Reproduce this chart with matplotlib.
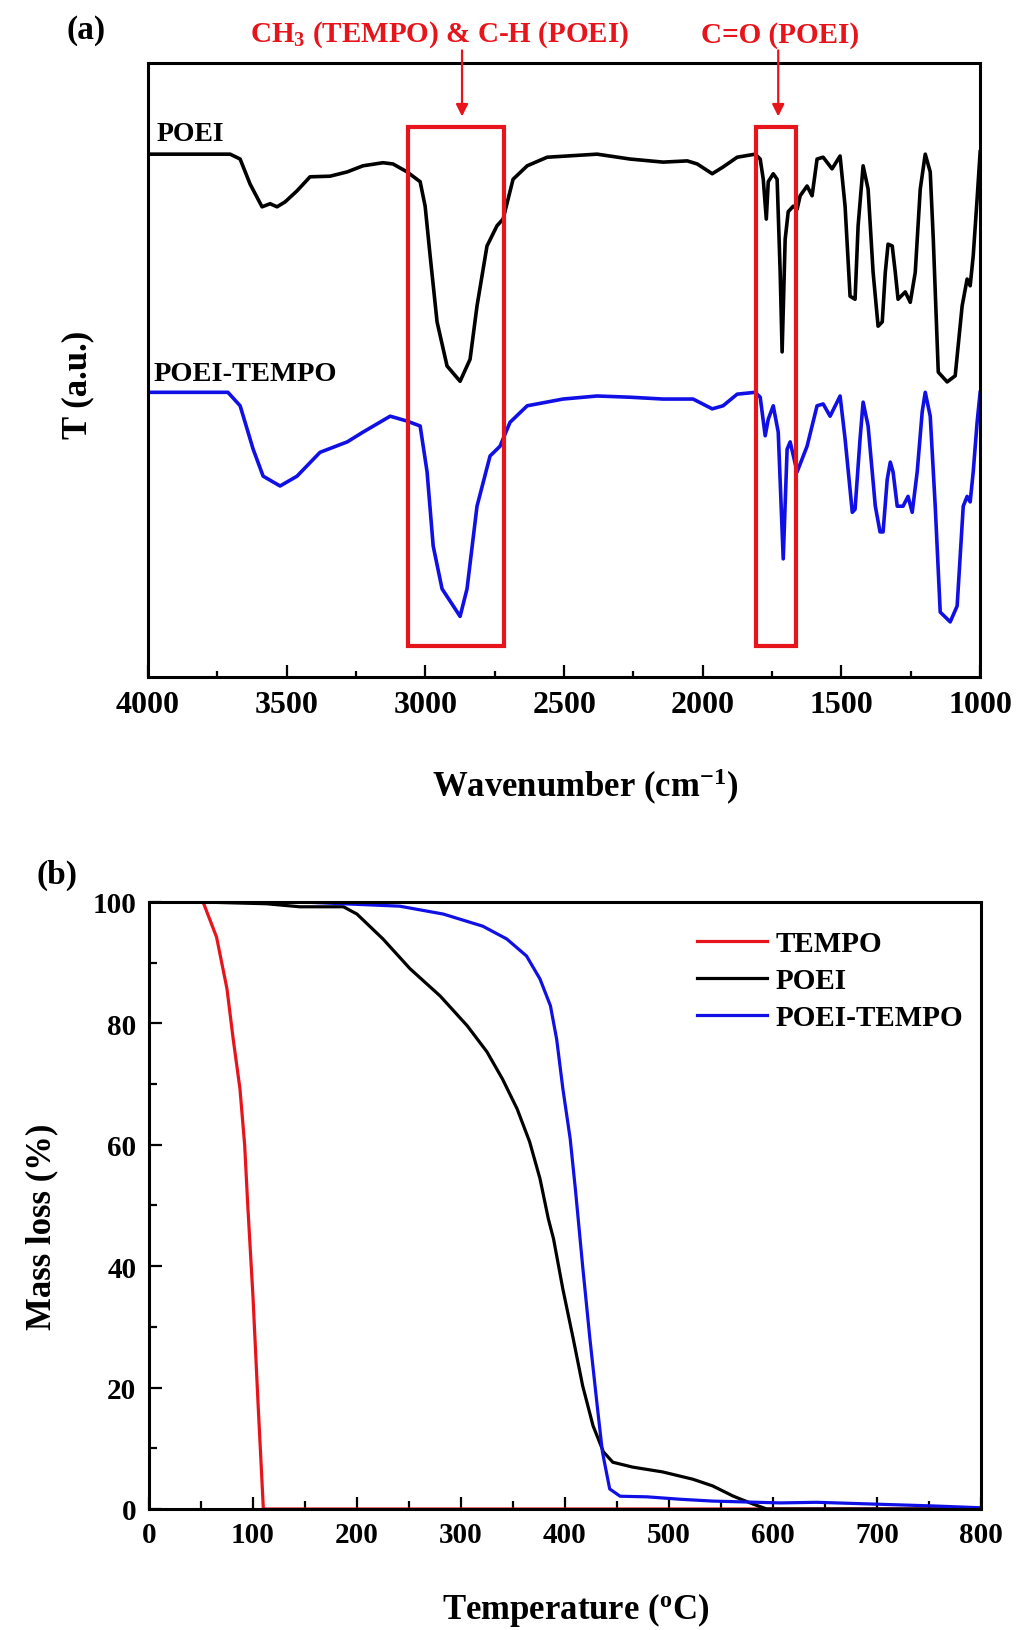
import matplotlib
matplotlib.use("Agg")
import matplotlib.pyplot as plt
from matplotlib.patches import Rectangle
from matplotlib.ticker import MultipleLocator

plt.rcParams['font.family'] = ['Liberation Serif', 'DejaVu Serif']
plt.rcParams['font.weight'] = 'bold'
plt.rcParams['axes.labelweight'] = 'bold'
plt.rcParams['mathtext.fontset'] = 'custom'
plt.rcParams['mathtext.rm'] = 'Liberation Serif:bold'
plt.rcParams['mathtext.default'] = 'regular'

# ---- FTIR spectra (a), transmittance in arbitrary units ----
poei_wn = [4000, 3704, 3668, 3632, 3589, 3560, 3535, 3506, 3463, 3416, 3344, 3282, 3225, 3153,
           3117, 3066, 3019, 3001, 2983, 2958, 2922, 2875, 2839, 2814, 2778, 2742, 2720, 2684,
           2633, 2561, 2381, 2262, 2143, 2056, 2020, 1966, 1927, 1876, 1811, 1793, 1782, 1771,
           1764, 1746, 1732, 1721, 1714, 1703, 1692, 1674, 1660, 1649, 1624, 1606, 1588, 1566,
           1534, 1505, 1487, 1469, 1451, 1440, 1422, 1404, 1386, 1368, 1353, 1342, 1332, 1317,
           1306, 1296, 1270, 1252, 1234, 1216, 1198, 1180, 1169, 1151, 1119, 1090, 1065, 1047,
           1036, 1025, 1011, 1000]
poei_t = [85.1, 85.1, 84.3, 80.2, 76.5, 77.0, 76.5, 77.3, 79.1, 81.4, 81.5, 82.2, 83.2, 83.7,
          83.5, 82.2, 80.6, 76.6, 68.5, 57.7, 50.5, 48.0, 51.6, 60.3, 70.1, 73.4, 74.5, 81.0,
          83.2, 84.6, 85.1, 84.3, 83.8, 84.0, 83.5, 81.9, 83.0, 84.6, 85.1, 84.3, 81.0, 74.5,
          80.6, 81.9, 81.0, 65.8, 52.8, 71.2, 75.7, 76.6, 76.1, 78.3, 79.9, 78.3, 84.3, 84.6,
          82.7, 84.8, 76.6, 61.9, 61.4, 73.4, 83.2, 79.4, 65.8, 57.0, 57.7, 65.8, 70.4, 70.1,
          65.8, 61.4, 62.6, 60.9, 65.8, 79.4, 85.1, 82.2, 71.2, 49.5, 47.9, 48.9, 60.3, 64.7,
          63.6, 68.5, 77.8, 85.5]

poei_tempo_wn = [4000, 3712, 3668, 3621, 3585, 3524, 3463, 3380, 3282, 3225, 3127, 3066, 3019,
                 2994, 2972, 2940, 2875, 2850, 2814, 2767, 2731, 2695, 2633, 2504, 2381, 2262,
                 2143, 2035, 1966, 1927, 1876, 1811, 1793, 1775, 1764, 1746, 1728, 1710, 1696,
                 1685, 1660, 1624, 1588, 1566, 1541, 1505, 1487, 1461, 1451, 1433, 1422, 1404,
                 1378, 1361, 1350, 1335, 1324, 1314, 1299, 1278, 1260, 1245, 1227, 1209, 1198,
                 1180, 1162, 1144, 1108, 1083, 1061, 1047, 1036, 1025, 1011, 1000]
poei_tempo_t = [46.2, 46.2, 44.0, 36.9, 32.5, 30.9, 32.5, 36.4, 38.1, 39.7, 42.3, 41.5, 40.7,
                33.2, 21.1, 14.1, 9.6, 14.1, 27.6, 35.8, 37.4, 41.3, 44.0, 45.1, 45.6, 45.4,
                45.1, 45.1, 43.5, 44.0, 45.9, 46.2, 45.4, 39.1, 41.8, 44.0, 39.7, 19.0, 36.9,
                38.1, 33.2, 37.4, 44.0, 44.3, 42.3, 45.6, 38.6, 26.6, 27.1, 38.6, 44.6, 40.7,
                27.6, 23.4, 23.4, 32.0, 34.8, 33.2, 27.6, 27.6, 29.2, 26.6, 33.2, 43.0, 46.2,
                42.3, 27.6, 10.3, 8.7, 11.3, 27.6, 29.2, 28.3, 33.2, 41.3, 46.2]

ftir_xticks = [4000, 3500, 3000, 2500, 2000, 1500, 1000]
band_ch = (2716, 3063)   # CH3 / C-H box (cm-1)
band_co = (1663, 1807)   # C=O box (cm-1)
arrow_ch = 2868
arrow_co = 1728

# ---- TGA curves (b) ----
tempo_T = [52, 65, 75, 81, 87.5, 92, 95, 100, 105, 110, 800]
tempo_m = [100, 94.2, 85.7, 77.4, 69.2, 60, 50, 35, 17, 0, 0]

poei_T = [48, 113, 145, 187, 200, 225, 251, 280, 306, 325, 340, 354, 366, 376, 384, 389, 398,
          408, 417, 427, 437, 446, 465, 494, 523, 542, 562, 581, 594, 800]
poei_m = [100, 99.7, 99.2, 99.2, 98.0, 93.9, 89.0, 84.5, 79.6, 75.3, 70.8, 65.9, 60.5, 54.4,
          47.8, 44.5, 36.2, 28.0, 20.3, 13.7, 9.4, 7.7, 6.9, 6.1, 4.9, 3.8, 2.1, 0.8, 0, 0]

pt_T = [47, 145, 241, 283, 321, 344, 363, 376, 386, 392, 398, 405, 410, 417, 424, 431, 436,
        443, 453, 479, 511, 542, 607, 642, 754, 800]
pt_m = [100, 100, 99.3, 98.0, 96.0, 93.9, 91.1, 87.3, 82.9, 77.4, 69.2, 61.0, 52.7, 40.0,
        28.0, 17.0, 9.4, 3.3, 2.1, 2.0, 1.6, 1.3, 1.0, 1.1, 0.5, 0.2]

red = '#e8141b'
blue = '#1010e6'

fig = plt.figure(figsize=(10.21, 16.31), dpi=100)

# ======================= panel (a) =======================
ax1 = fig.add_axes([0.145, 0.5843, 0.815, 0.3765])
ax1.plot(poei_wn, poei_t, color='black', lw=2.6)
ax1.plot(poei_tempo_wn, poei_tempo_t, color=blue, lw=2.6)
ax1.set_xlim(4000, 1000)
ax1.set_ylim(-0.3, 100)
ax1.set_xticks(ftir_xticks)
ax1.xaxis.set_minor_locator(MultipleLocator(250))
ax1.tick_params(axis='x', which='major', direction='in', length=8.5, width=1.6,
                labelsize=23, pad=9, top=False)
ax1.tick_params(axis='x', which='minor', direction='in', length=4, width=1.6, top=False)
ax1.tick_params(axis='y', left=False, labelleft=False)
for s in ax1.spines.values():
    s.set_linewidth(2.2)

for lo, hi in (band_ch, band_co):
    ax1.add_patch(Rectangle((hi, 4.8), lo - hi, 84.7, fill=False, ec=red, lw=3, zorder=3))
for xa in (arrow_ch, arrow_co):
    ax1.annotate('', xy=(xa, 90.8), xytext=(xa, 102.5), annotation_clip=False,
                 arrowprops=dict(arrowstyle='-|>', color=red, lw=1.6, mutation_scale=18))
ax1.text(2950, 104.7, r'CH$\mathregular{_3}$ (TEMPO) & C-H (POEI)', color=red, fontsize=21,
         ha='center', va='center', clip_on=False)
ax1.text(1720, 104.7, 'C=O (POEI)', color=red, fontsize=21, ha='center', va='center',
         clip_on=False)
ax1.text(3970, 88.5, 'POEI', fontsize=20, ha='left', va='center')
ax1.text(3980, 49.3, 'POEI-TEMPO', fontsize=20.5, ha='left', va='center')

ax1.set_xlabel(r'Wavenumber (cm$\mathregular{^{-1}}$)', fontsize=25)
ax1.xaxis.set_label_coords(0.525, -0.1775)
ax1.xaxis.label.set_va('center')
ax1.set_ylabel('T (a.u.)', fontsize=25)
ax1.yaxis.set_label_coords(-0.084, 0.477)
ax1.yaxis.label.set_va('center')
ax1.text(-0.075, 1.054, '(a)', transform=ax1.transAxes, fontsize=24, ha='center', va='center')

# ======================= panel (b) =======================
ax2 = fig.add_axes([0.1459, 0.0742, 0.8149, 0.3722])
ax2.plot(tempo_T, tempo_m, color=red, lw=2.3, label='TEMPO')
ax2.plot(poei_T, poei_m, color='black', lw=2.3, label='POEI')
ax2.plot(pt_T, pt_m, color=blue, lw=2.3, label='POEI-TEMPO')
ax2.set_xlim(0, 800)
ax2.set_ylim(0, 100)
ax2.xaxis.set_major_locator(MultipleLocator(100))
ax2.xaxis.set_minor_locator(MultipleLocator(50))
ax2.yaxis.set_major_locator(MultipleLocator(20))
ax2.yaxis.set_minor_locator(MultipleLocator(10))
ax2.tick_params(which='major', direction='in', length=9, width=1.6, labelsize=21, pad=9,
                top=False, right=False)
ax2.tick_params(which='minor', direction='in', length=5.5, width=1.6, top=False, right=False)
for s in ax2.spines.values():
    s.set_linewidth(2.2)

ax2.legend(loc='upper left', bbox_to_anchor=(0.659, 0.954), frameon=False, fontsize=21,
           handlelength=2.4, handletextpad=0.3, labelspacing=0.35, borderpad=0,
           borderaxespad=0)

ax2.set_xlabel(r'Temperature ($\mathregular{^o}$C)', fontsize=25)
ax2.xaxis.set_label_coords(0.513, -0.165)
ax2.xaxis.label.set_va('center')
ax2.set_ylabel('Mass loss (%)', fontsize=25)
ax2.yaxis.set_label_coords(-0.129, 0.466)
ax2.yaxis.label.set_va('center')
ax2.text(-0.11, 1.045, '(b)', transform=ax2.transAxes, fontsize=24, ha='center', va='center')

fig.savefig('out.png', dpi=100, facecolor='white')
